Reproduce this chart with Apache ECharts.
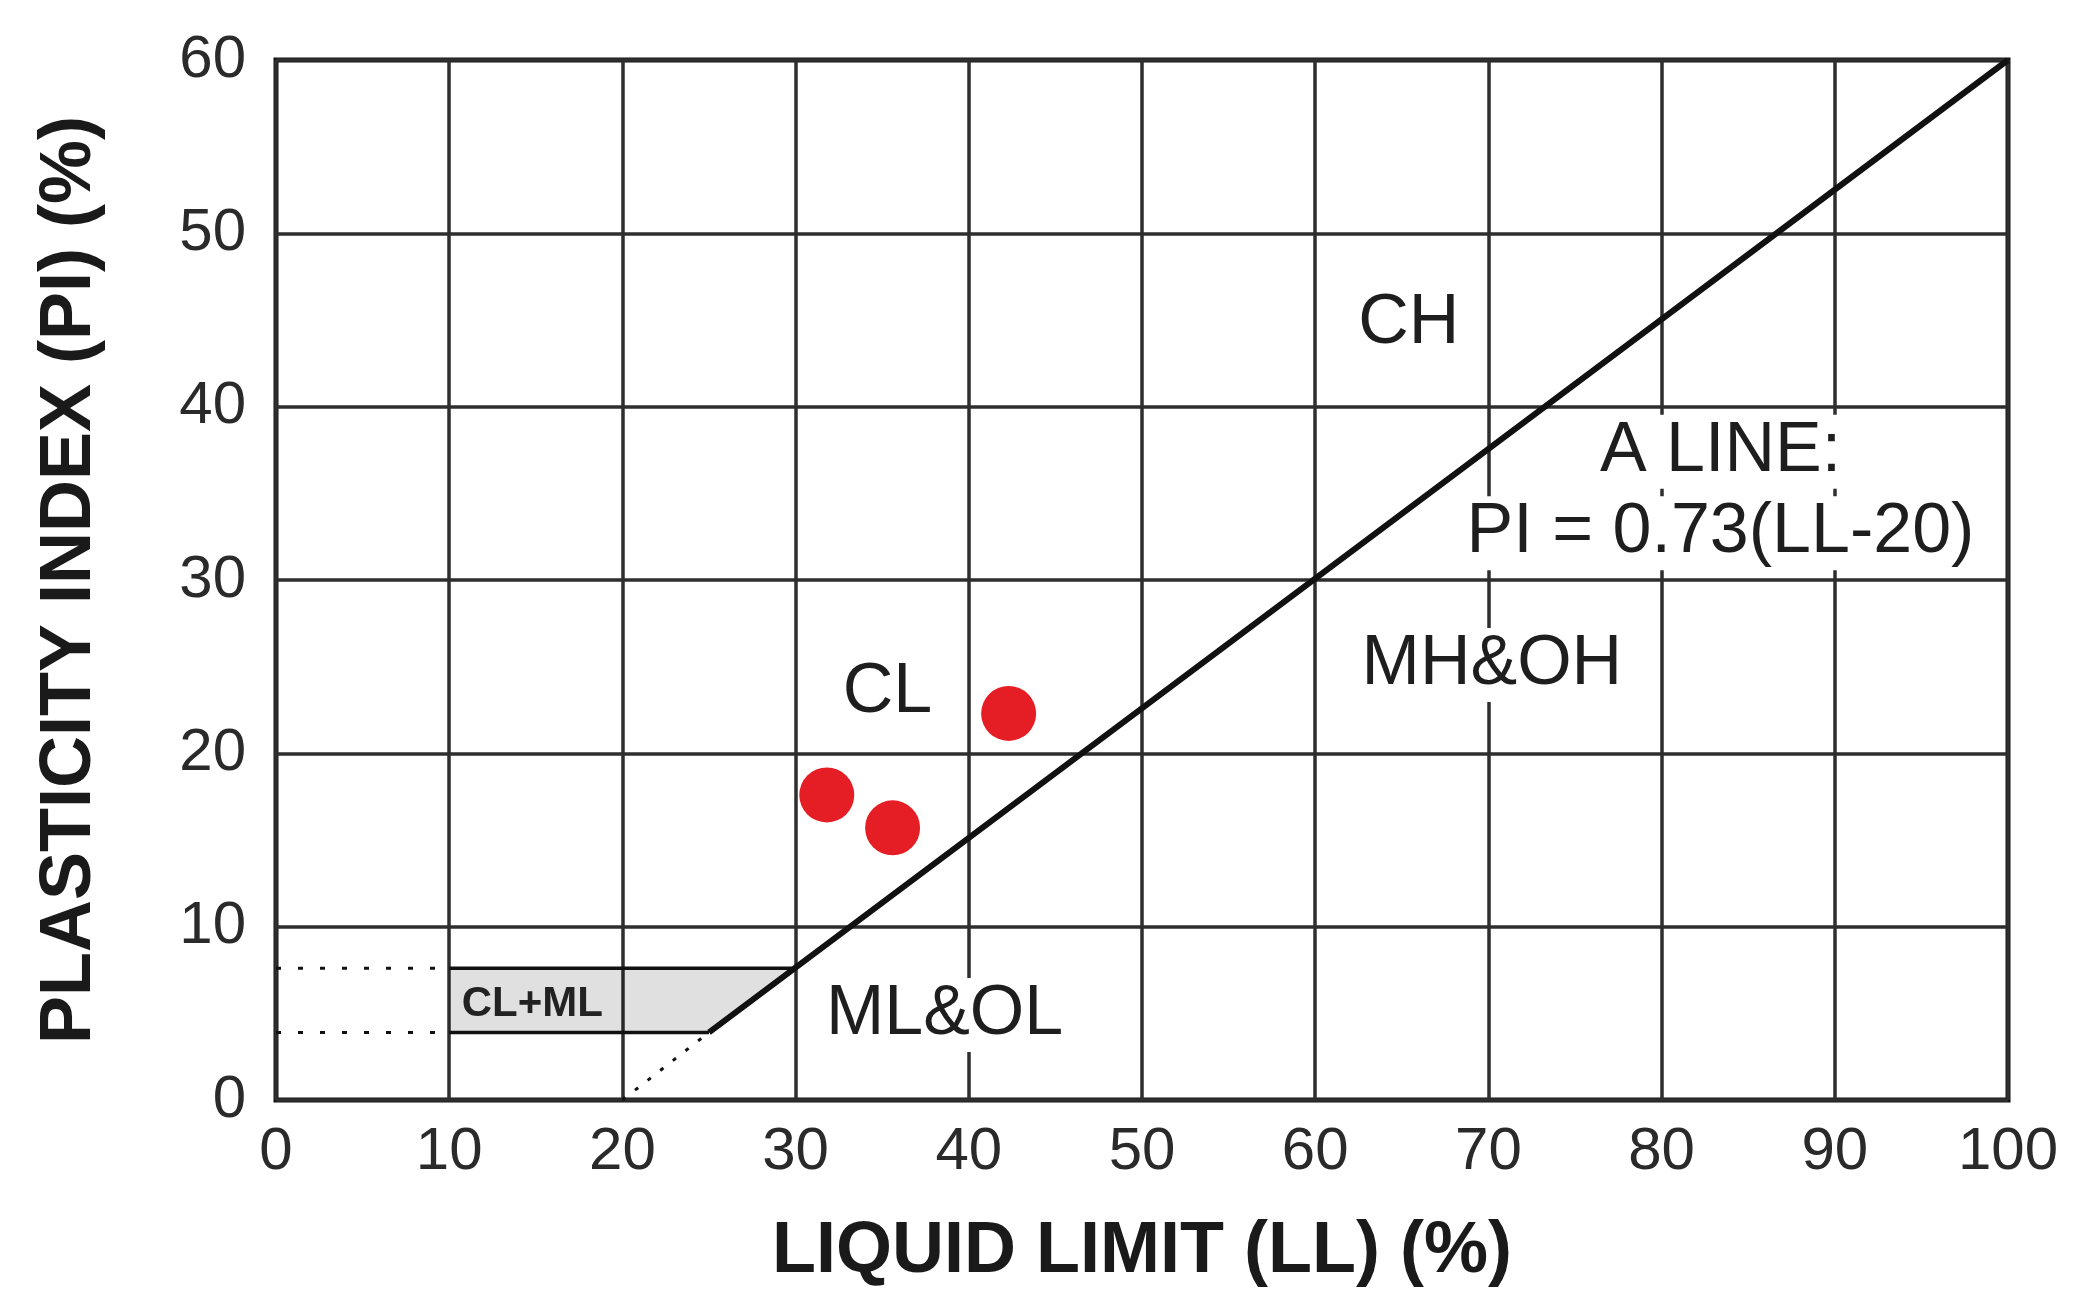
<!DOCTYPE html>
<html>
<head>
<meta charset="utf-8">
<script src="https://cdn.jsdelivr.net/npm/echarts@6/dist/echarts.min.js"></script>
<style>
html,body{margin:0;padding:0;background:#fff;}
#chart{width:2095px;height:1312px;}
</style>
</head>
<body>
<div id="chart"></div>
<script>
// ---- data ----
var xTicks = [0, 100, 10];   // min, max, interval
var yTicks = [0, 60, 10];
var samplePoints = [[31.8, 17.6], [35.6, 15.7], [42.3, 22.3]];
var aLine = [[25, 3.9], [100, 60]];
var aLineExt = [[20, 0], [25, 3.9]];
var clmlZone = [[10, 3.9], [10, 7.6], [30, 7.6], [25, 3.9]];
var clmlTopSolid = [[10, 7.6], [30, 7.6]];
var clmlBotSolid = [[10, 3.9], [25, 3.9]];
var clmlTopDotted = [[0, 7.6], [10, 7.6]];
var clmlBotDotted = [[0, 3.9], [10, 3.9]];
var zoneLabels = [
  {text: 'CH', at: [65.4, 44.8]},
  {text: 'A LINE:', at: [83.4, 37.4]},
  {text: 'PI = 0.73(LL-20)', at: [83.4, 32.7]},
  {text: 'MH&OH', at: [70.2, 25.1]},
  {text: 'CL', at: [35.3, 23.5]},
  {text: 'ML&OL', at: [38.6, 4.9]}
];
var smallLabels = [{text: 'CL+ML', at: [14.8, 5.5]}];
var xTitle = 'LIQUID LIMIT (LL) (%)';
var yTitle = 'PLASTICITY INDEX (PI) (%)';

// ---- chart ----
var chart = echarts.init(document.getElementById('chart'));
var FONT = '"Liberation Sans", Arial, sans-serif';

function lineSeries(data, width, type) {
  return {
    type: 'line', data: data, symbol: 'none', silent: true, z: 3,
    lineStyle: {color: '#111', width: width, type: type || 'solid', cap: 'butt', opacity: 1},
    animation: false
  };
}

var option = {
  animation: false,
  backgroundColor: '#fff',
  grid: {left: 276, right: 87, top: 60, bottom: 212, show: true,
         borderColor: '#111', borderWidth: 5, backgroundColor: 'transparent'},
  xAxis: {
    type: 'value', min: xTicks[0], max: xTicks[1], interval: xTicks[2],
    axisLine: {show: false}, axisTick: {show: false},
    splitLine: {show: true, lineStyle: {color: '#2e2e2e', width: 3.5}},
    axisLabel: {fontSize: 60, color: '#2a2a2a', margin: 22, fontFamily: FONT},
    name: xTitle, nameLocation: 'middle', nameGap: 116,
    nameTextStyle: {fontSize: 72, fontWeight: 'bold', color: '#1a1a1a', fontFamily: FONT}
  },
  yAxis: {
    type: 'value', min: yTicks[0], max: yTicks[1], interval: yTicks[2],
    axisLine: {show: false}, axisTick: {show: false},
    splitLine: {show: true, lineStyle: {color: '#2e2e2e', width: 3.5}},
    axisLabel: {fontSize: 60, color: '#2a2a2a', margin: 30, fontFamily: FONT},
    name: yTitle, nameLocation: 'middle', nameGap: 170,
    nameTextStyle: {fontSize: 72, fontWeight: 'bold', color: '#1a1a1a', fontFamily: FONT}
  },
  series: [
    {
      type: 'custom', silent: true, z: 2,
      renderItem: function (params, api) {
        var pts = clmlZone.map(function (p) { return api.coord(p); });
        return {type: 'polygon', shape: {points: pts},
                style: {fill: 'rgba(0,0,0,0.12)', stroke: 'none'}};
      },
      data: [0]
    },
    lineSeries(aLine, 6),
    lineSeries(aLineExt, 3, [4, 12]),
    lineSeries(clmlTopSolid, 3.5),
    lineSeries(clmlBotSolid, 3.5),
    lineSeries(clmlTopDotted, 3, [5, 17]),
    lineSeries(clmlBotDotted, 3, [5, 17]),
    {
      type: 'scatter', data: samplePoints, symbol: 'circle', symbolSize: 55, z: 5,
      itemStyle: {color: '#e51d25', opacity: 1}, silent: true
    },
    {
      type: 'scatter', z: 4, silent: true, symbolSize: 0, itemStyle: {opacity: 1},
      data: zoneLabels.map(function (d) { return {value: d.at, name: d.text}; }),
      label: {show: true, position: 'inside', formatter: '{b}', fontSize: 70,
              color: '#1e1e1e', fontFamily: FONT, backgroundColor: '#fff',
              padding: [2, 4, 0, 4], lineHeight: 72}
    },
    {
      type: 'scatter', z: 4, silent: true, symbolSize: 0, itemStyle: {opacity: 1},
      data: smallLabels.map(function (d) { return {value: d.at, name: d.text}; }),
      label: {show: true, position: 'inside', formatter: '{b}', fontSize: 42,
              fontWeight: 'bold', color: '#222', fontFamily: FONT}
    }
  ]
};
chart.setOption(option);
</script>
</body>
</html>
